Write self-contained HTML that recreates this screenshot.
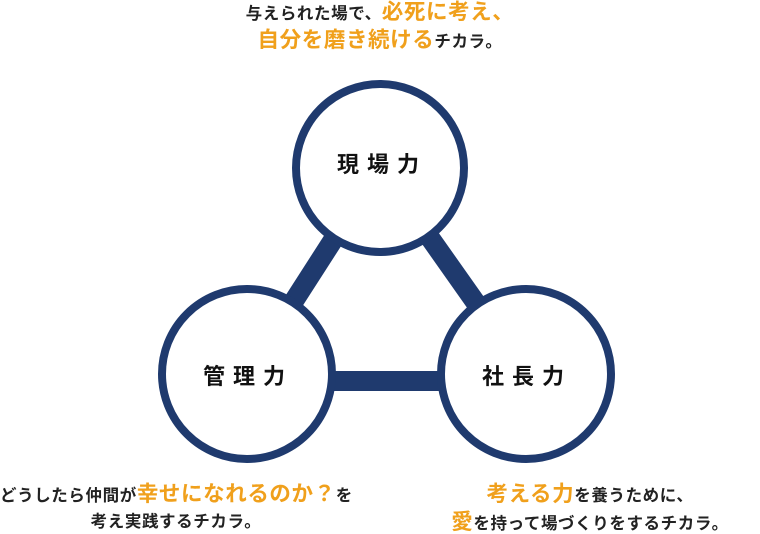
<!DOCTYPE html>
<html><head><meta charset="utf-8"><style>
html,body{margin:0;padding:0;background:#fff;}
body{width:760px;height:534px;position:relative;overflow:hidden;font-family:"Liberation Sans","Noto Sans CJK JP",sans-serif;font-weight:bold;color:#222;}
.t{position:absolute;white-space:nowrap;text-align:center;line-height:1;letter-spacing:0.6px;}
.o{color:#f0a01c;font-size:21.5px;}
.s{font-size:16.5px;}
.lab{position:absolute;font-size:22px;letter-spacing:8px;color:#111;white-space:nowrap;line-height:1;}
</style></head><body>
<svg width="760" height="534" style="position:absolute;left:0;top:0">
<g stroke="#1f3a6e" stroke-width="20">
<line x1="380" y1="167" x2="247" y2="374"/>
<line x1="380" y1="167" x2="526" y2="374"/>
<line x1="247" y1="381" x2="526" y2="381"/>
</g>
<g fill="#fff" stroke="#1f3a6e" stroke-width="8">
<circle cx="380" cy="168" r="84"/>
<circle cx="247" cy="374" r="85"/>
<circle cx="526" cy="374" r="85"/>
</g>
</svg>
<div class="lab" style="left:337px;top:154px">現場力</div>
<div class="lab" style="left:203px;top:366px">管理力</div>
<div class="lab" style="left:482px;top:366px">社長力</div>

<div class="t" style="left:0;width:760px;top:2px"><span class="s">与えられた場で、</span><span class="o">必死に考え、</span></div>
<div class="t" style="left:0;width:760px;top:30px"><span class="o">自分を磨き続ける</span><span class="s">チカラ。</span></div>

<div class="t" style="left:0;width:352px;top:484px"><span class="s">どうしたら仲間が</span><span class="o">幸せになれるのか？</span><span class="s">を</span></div>
<div class="t" style="left:0;width:352px;top:514px"><span class="s">考え実践するチカラ。</span></div>

<div class="t" style="left:440px;width:300px;top:484px"><span class="o">考える力</span><span class="s">を養うために、</span></div>
<div class="t" style="left:440px;width:300px;top:512px"><span class="o">愛</span><span class="s">を持って場づくりをするチカラ。</span></div>
</body></html>
